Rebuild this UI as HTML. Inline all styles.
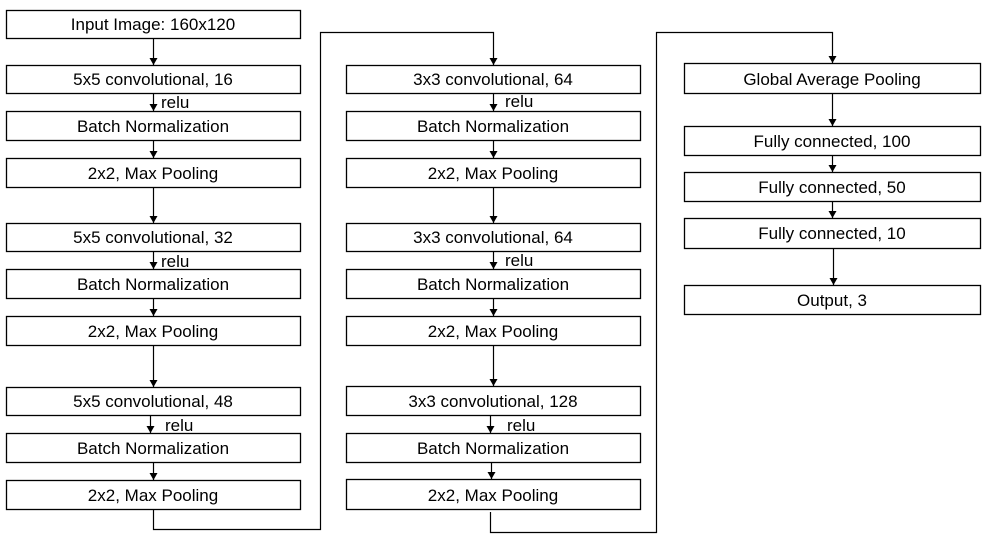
<!DOCTYPE html>
<html><head><meta charset="utf-8"><style>
html,body{margin:0;padding:0;background:#fff;}
svg{display:block;}
text{font-family:"Liberation Sans",sans-serif;font-size:17px;fill:#000;}
</style></head><body>
<svg width="993" height="544" viewBox="0 0 993 544" xmlns="http://www.w3.org/2000/svg">
<defs><marker id="a" markerWidth="8" markerHeight="8" refX="7" refY="4" orient="auto" markerUnits="userSpaceOnUse"><path d="M0,0 L7,4 L0,8 z" fill="#000"/></marker></defs>
<g fill="#fff" stroke="#000" stroke-width="1.3">
<rect x="6.5" y="10.5" width="294" height="28"/>
<rect x="6.5" y="65.5" width="294" height="28"/>
<rect x="6.5" y="111.5" width="294" height="29"/>
<rect x="6.5" y="158.5" width="294" height="29"/>
<rect x="6.5" y="223.5" width="294" height="28"/>
<rect x="6.5" y="269.5" width="294" height="29"/>
<rect x="6.5" y="316.5" width="294" height="29"/>
<rect x="6.5" y="387.5" width="294" height="28"/>
<rect x="6.5" y="433.5" width="294" height="29"/>
<rect x="6.5" y="480.5" width="294" height="29"/>
<rect x="346.5" y="65.5" width="294" height="28"/>
<rect x="346.5" y="111.5" width="294" height="29"/>
<rect x="346.5" y="158.5" width="294" height="29"/>
<rect x="346.5" y="223.5" width="294" height="28"/>
<rect x="346.5" y="269.5" width="294" height="29"/>
<rect x="346.5" y="316.5" width="294" height="29"/>
<rect x="346.5" y="386.5" width="294" height="29"/>
<rect x="346.5" y="433.5" width="294" height="29"/>
<rect x="346.5" y="479.5" width="294" height="30"/>
<rect x="684.5" y="63.5" width="296" height="30"/>
<rect x="684.5" y="126.5" width="296" height="29"/>
<rect x="684.5" y="172.5" width="296" height="29"/>
<rect x="684.5" y="218.5" width="296" height="30"/>
<rect x="684.5" y="285.5" width="296" height="29"/>
</g>
<g stroke="#000" stroke-width="1.2" fill="none" marker-end="url(#a)">
<line x1="153.5" y1="39" x2="153.5" y2="65"/>
<line x1="153.5" y1="94" x2="153.5" y2="111"/>
<line x1="153.5" y1="141" x2="153.5" y2="158"/>
<line x1="153.5" y1="188" x2="153.5" y2="223"/>
<line x1="153.5" y1="252" x2="153.5" y2="269"/>
<line x1="153.5" y1="299" x2="153.5" y2="316"/>
<line x1="153.5" y1="346" x2="153.5" y2="387"/>
<line x1="150.5" y1="416" x2="150.5" y2="433"/>
<line x1="153.5" y1="463" x2="153.5" y2="480"/>
<polyline points="153.5,510 153.5,529.5 320.5,529.5 320.5,32.5 493.5,32.5 493.5,65"/>
<line x1="493.5" y1="94" x2="493.5" y2="111"/>
<line x1="493.5" y1="141" x2="493.5" y2="158"/>
<line x1="493.5" y1="188" x2="493.5" y2="223"/>
<line x1="493.5" y1="252" x2="493.5" y2="269"/>
<line x1="493.5" y1="299" x2="493.5" y2="316"/>
<line x1="493.5" y1="346" x2="493.5" y2="386"/>
<line x1="490.5" y1="416" x2="490.5" y2="433"/>
<line x1="491.5" y1="463" x2="491.5" y2="479"/>
<polyline points="490.5,512 490.5,532.5 656.5,532.5 656.5,32.5 832.5,32.5 832.5,63"/>
<line x1="832.5" y1="94" x2="832.5" y2="126"/>
<line x1="832.5" y1="156" x2="832.5" y2="172"/>
<line x1="832.5" y1="202" x2="832.5" y2="218"/>
<line x1="833.5" y1="249" x2="833.5" y2="285"/>
</g>
<g text-anchor="middle">
<text x="153" y="30">Input Image: 160x120</text>
<text x="153" y="85">5x5 convolutional, 16</text>
<text x="153" y="132">Batch Normalization</text>
<text x="153" y="179">2x2, Max Pooling</text>
<text x="153" y="243">5x5 convolutional, 32</text>
<text x="153" y="290">Batch Normalization</text>
<text x="153" y="337">2x2, Max Pooling</text>
<text x="153" y="407">5x5 convolutional, 48</text>
<text x="153" y="454">Batch Normalization</text>
<text x="153" y="501">2x2, Max Pooling</text>
<text x="493" y="85">3x3 convolutional, 64</text>
<text x="493" y="132">Batch Normalization</text>
<text x="493" y="179">2x2, Max Pooling</text>
<text x="493" y="243">3x3 convolutional, 64</text>
<text x="493" y="290">Batch Normalization</text>
<text x="493" y="337">2x2, Max Pooling</text>
<text x="493" y="407">3x3 convolutional, 128</text>
<text x="493" y="454">Batch Normalization</text>
<text x="493" y="501">2x2, Max Pooling</text>
<text x="832" y="85">Global Average Pooling</text>
<text x="832" y="147">Fully connected, 100</text>
<text x="832" y="193">Fully connected, 50</text>
<text x="832" y="239">Fully connected, 10</text>
<text x="832" y="306">Output, 3</text>
</g>
<g>
<text x="161" y="108">relu</text>
<text x="161" y="267">relu</text>
<text x="165" y="431">relu</text>
<text x="505" y="107">relu</text>
<text x="505" y="266">relu</text>
<text x="507" y="431">relu</text>
</g>
</svg>
</body></html>
